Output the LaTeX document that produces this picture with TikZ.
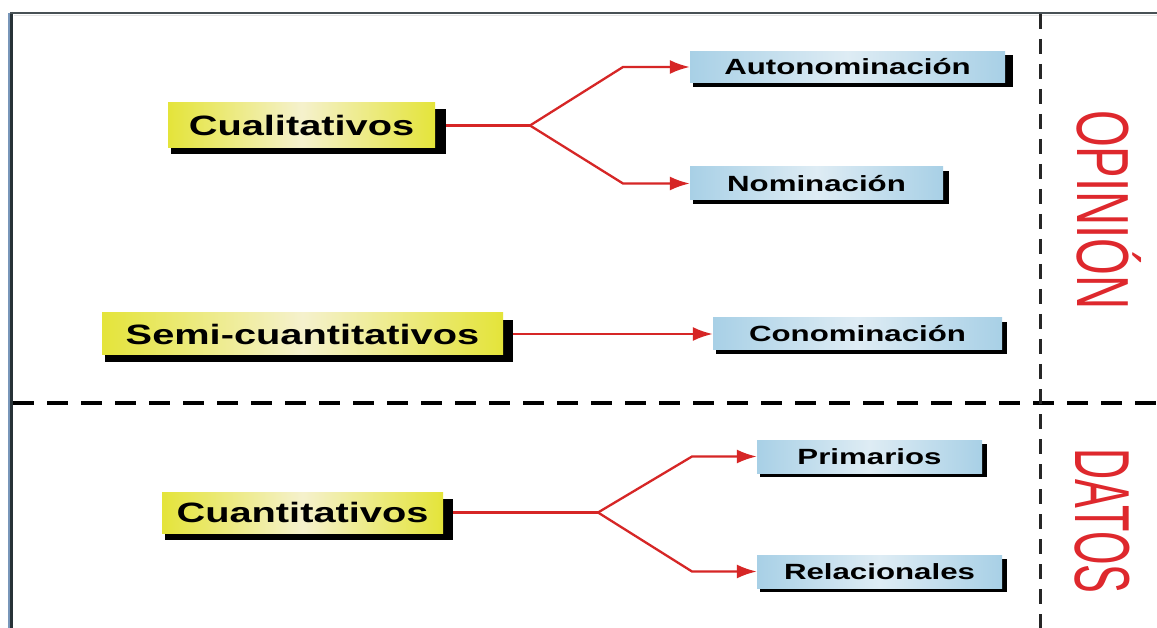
\documentclass[tikz,border=0pt]{standalone}
\usepackage{fontspec}
\newfontfamily\boxfont{Liberation Sans}
\usetikzlibrary{arrows.meta,backgrounds}
\definecolor{ybox}{RGB}{228,228,58}
\definecolor{yboxmid}{RGB}{245,241,205}
\definecolor{bbox}{RGB}{168,208,230}
\definecolor{bboxmid}{RGB}{222,236,244}
\definecolor{linered}{RGB}{214,38,38}
\definecolor{textred}{RGB}{222,40,45}
\definecolor{framedark}{RGB}{40,50,55}
\definecolor{frameblue}{RGB}{120,150,185}
\newcommand{\widetxt}[1]{\scalebox{1.42}[1]{#1}}
\newcommand{\castshadow}[3]{%
  \fill[black] ([xshift=3pt,yshift=-#3]#1.south west) rectangle ([xshift=#2,yshift=-#3]#1.north east);}
\begin{document}
\begin{tikzpicture}[x=1pt,y=-1pt,
  ybx/.style={inner sep=0pt, left color=ybox, right color=ybox, middle color=yboxmid,
    font=\boxfont\bfseries\fontsize{28}{30}\selectfont},
  bbx/.style={inner sep=0pt, left color=bbox, right color=bbox, middle color=bboxmid,
    font=\boxfont\bfseries\fontsize{22}{24}\selectfont},
  conn/.style={draw=linered, line width=2.3pt, line join=round},
  arr/.style={conn, -{Latex[length=20pt,width=14pt]}},
  vlabel/.style={text=textred, inner sep=0pt, anchor=base, rotate=-90,
    font=\boxfont\fontsize{52}{52}\selectfont}
]
\useasboundingbox (0,0) rectangle (1157,628);

% frame
\draw[frameblue, line width=2pt] (8.5,13) -- (8.5,628);
\draw[framedark, line width=3.5pt] (11.5,12) -- (11.5,628);
\draw[framedark!85, line width=2pt] (10,13) -- (1157,13);
\draw[black!10, line width=1.5pt] (14,15.5) -- (1157,15.5);

% dashed separators
\draw[black, line width=4pt, dash pattern=on 21pt off 13pt] (13,403) -- (1157,403);
\draw[black!85, line width=3pt, dash pattern=on 15pt off 10pt] (1040,14) -- (1040,628);

% yellow boxes
\node[ybx, minimum width=267pt, minimum height=45pt] (cual) at (301.5,125.5) {\widetxt{Cualitativos}};
\node[ybx, minimum width=401pt, minimum height=42pt] (semi) at (302.5,334) {\widetxt{Semi-cuantitativos}};
\node[ybx, minimum width=281pt, minimum height=41pt] (cuan) at (302.5,512.5) {\widetxt{Cuantitativos}};

% blue boxes
\node[bbx, minimum width=315pt, minimum height=31pt] (auto) at (847.5,67) {\widetxt{Autonominación}};
\node[bbx, minimum width=253pt, minimum height=33pt] (nom) at (816.5,183.5) {\widetxt{Nominación}};
\node[bbx, minimum width=289pt, minimum height=32pt] (cono) at (857.5,334) {\widetxt{Conominación}};
\node[bbx, minimum width=225pt, minimum height=33pt] (prim) at (869.5,456.5) {\widetxt{Primarios}};
\node[bbx, minimum width=245pt, minimum height=33pt] (rel) at (879.5,571.5) {\widetxt{Relacionales}};

% white page and shadows behind the boxes
\begin{scope}[on background layer]
  \fill[white] (0,0) rectangle (1157,628);
  \castshadow{cual}{11pt}{6pt}
  \castshadow{semi}{10pt}{7pt}
  \castshadow{cuan}{10pt}{7pt}
  \castshadow{auto}{8pt}{4pt}
  \castshadow{nom}{6pt}{4pt}
  \castshadow{cono}{5pt}{4pt}
  \castshadow{prim}{5pt}{4pt}
  \castshadow{rel}{5pt}{4pt}
\end{scope}

% side labels
\node[vlabel] (opinion) at (1077,210) {\scalebox{0.91}[1.42]{OPINIÓN}};
\node[vlabel] (datos) at (1075,521) {\scalebox{0.83}[1.5]{DATOS}};

% connectors
\coordinate (k1) at (530,125.5);
\coordinate (k1u) at (623,67);
\coordinate (k1d) at (623,183.5);
\draw[conn] ([xshift=11pt]cual.east) -- (k1);
\draw[arr] (k1) -- (k1u) -- (auto.west);
\draw[arr] (k1) -- (k1d) -- (nom.west);

\draw[arr] ([xshift=10pt]semi.east) -- (cono.west);

\coordinate (k2) at (598,512.5);
\coordinate (k2u) at (692,456.5);
\coordinate (k2d) at (692,571.5);
\draw[conn] ([xshift=10pt]cuan.east) -- (k2);
\draw[arr] (k2) -- (k2u) -- (prim.west);
\draw[arr] (k2) -- (k2d) -- (rel.west);
\end{tikzpicture}
\end{document}
